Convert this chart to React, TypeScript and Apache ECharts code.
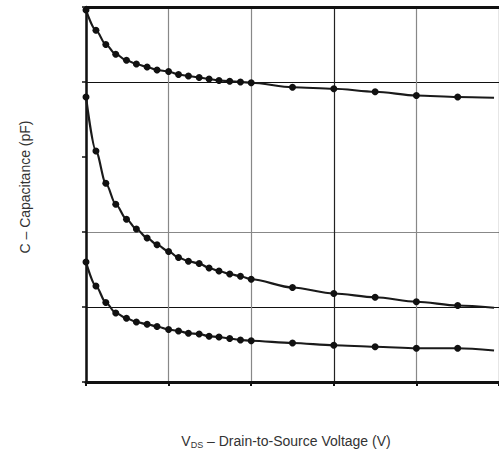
import React, { useEffect, useRef } from "react";
import * as echarts from "echarts";

const vds = [0, 0.6, 1.2, 1.8, 2.45, 3.05, 3.7, 4.3, 5.0, 5.6, 6.2, 6.85, 7.45, 8.05, 8.7, 9.35, 10, 12.5, 15, 17.5, 20, 22.5, 24.7];
const cissValues = [496, 469, 450, 437, 429, 424, 420, 416, 414, 410, 408, 406, 404, 402, 401, 400, 399, 393, 391, 387, 382, 380, 379];
const cossValues = [380, 308, 265, 237, 217, 204, 192, 183, 174, 166, 161, 158, 152, 148, 144, 141, 137, 126, 118, 113, 107, 102, 99];
const crssValues = [160, 128, 106, 92, 85, 80, 77, 74, 70, 68, 65, 64, 61, 60, 58, 56, 55, 52, 49, 47, 45, 45, 42];

const xTitle = "V{sub|DS} – Drain-to-Source Voltage (V)";
const yTitle = "C – Capacitance (pF)";

function buildData(values: number[]) {
  return values.map((v, i) =>
    i === values.length - 1
      ? { value: [vds[i], v], symbol: "none" }
      : { value: [vds[i], v] }
  );
}

export default function App() {
  const ref = useRef<HTMLDivElement>(null);
  useEffect(() => {
    if (!ref.current) return;
    const chart = echarts.init(ref.current, undefined, { renderer: "svg" });
    const seriesCommon = {
      type: "line" as const,
      smooth: 0.3,
      smoothMonotone: "x" as const,
      symbol: "circle",
      symbolSize: 7,
      lineStyle: { color: "#1a1a1a", width: 2.2 },
      itemStyle: { color: "#111" },
    };
    chart.setOption({
      animation: false,
      textStyle: { fontFamily: "Liberation Sans" },
      grid: { left: 86, right: -4.5, top: 7, bottom: 71 },
      xAxis: [
        {
          type: "value",
          min: 0,
          max: 25,
          interval: 5,
          position: "bottom",
          axisLine: { show: true, lineStyle: { color: "#111", width: 3 } },
          axisTick: { show: true, length: 4, lineStyle: { color: "#111", width: 2 } },
          axisLabel: { show: false },
          splitLine: {
            show: true,
            lineStyle: { color: ["#111", "#888", "#888", "#222", "#888", "#111"], width: 1.2 },
          },
        },
        {
          type: "value",
          min: 0,
          max: 25,
          position: "top",
          axisLine: { show: true, lineStyle: { color: "#111", width: 3 } },
          axisTick: { show: false },
          axisLabel: { show: false },
          splitLine: { show: false },
        },
      ],
      yAxis: {
        type: "value",
        min: 0,
        max: 500,
        interval: 100,
        axisLine: { show: true, lineStyle: { color: "#111", width: 2.5 } },
        axisTick: { show: true, length: 4, lineStyle: { color: "#111", width: 1.5 } },
        axisLabel: { show: false },
        splitLine: {
          show: true,
          lineStyle: { color: ["#111", "#111", "#888", "rgba(0,0,0,0)", "#111", "#111"], width: 1.2 },
        },
      },
      series: [
        { ...seriesCommon, name: "Ciss", data: buildData(cissValues) },
        { ...seriesCommon, name: "Coss", data: buildData(cossValues) },
        { ...seriesCommon, name: "Crss", data: buildData(crssValues) },
      ],
      graphic: [
        {
          type: "text",
          x: 286,
          y: 441,
          style: {
            text: xTitle,
            fontFamily: "Liberation Sans",
            fontSize: 14,
            fill: "#333",
            align: "center",
            verticalAlign: "middle",
            rich: {
              sub: { fontSize: 9, fill: "#333", verticalAlign: "bottom", padding: [7, 0, 0, 0] },
            },
          },
        },
        {
          type: "text",
          x: 25,
          y: 187,
          rotation: Math.PI / 2,
          style: {
            text: yTitle,
            fontFamily: "Liberation Sans",
            fontSize: 14,
            fill: "#333",
            align: "center",
            verticalAlign: "middle",
          },
        },
      ],
    });
    return () => chart.dispose();
  }, []);
  return (
    <div
      ref={ref}
      style={{ position: "absolute", left: 0, top: 0, width: 499, height: 453 }}
    />
  );
}
